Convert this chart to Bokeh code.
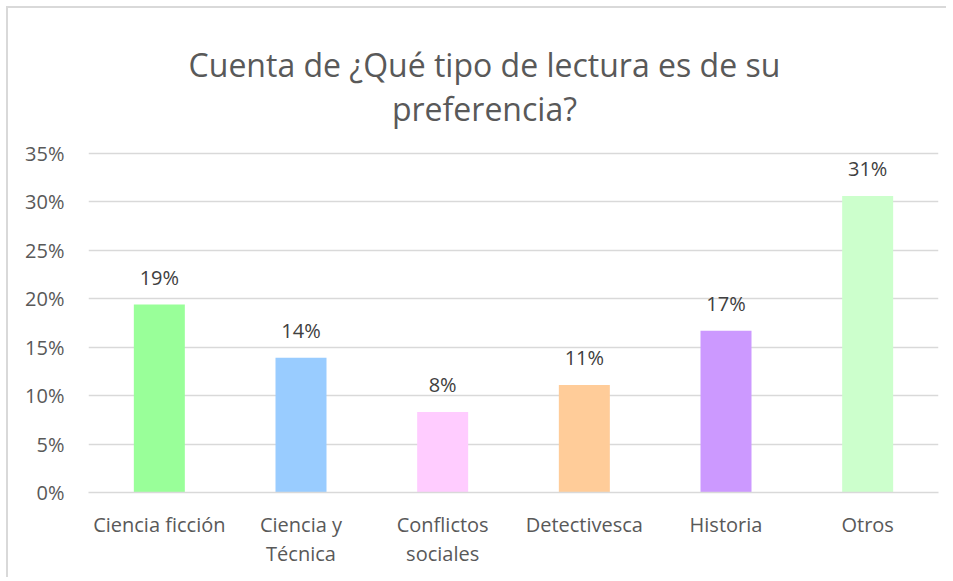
from bokeh.plotting import figure
from bokeh.models import (ColumnDataSource, Range1d, FixedTicker, NumeralTickFormatter,
                          Label, LabelSet)
from bokeh.core.properties import value
from bokeh.embed import file_html
from bokeh.resources import INLINE

categories = ["Ciencia ficción", "Ciencia y\nTécnica", "Conflictos\nsociales",
              "Detectivesca", "Historia", "Otros"]
values = [0.194, 0.139, 0.083, 0.111, 0.167, 0.306]
labels = ["19%", "14%", "8%", "11%", "17%", "31%"]
colors = ["#99FF99", "#99CCFF", "#FFCCFF", "#FFCC99", "#CC99FF", "#CCFFCC"]
y_ticks = [0, 0.05, 0.10, 0.15, 0.20, 0.25, 0.30, 0.35]
title_lines = ["Cuenta de ¿Qué tipo de lectura es de su", "preferencia?"]

FONT = "Open Sans"
TXT = "#595959"

# layout (pixels)
H, TOP, BOTTOM = 571, 10, 87
AXIS_PX = 339            # pixel height of the 0..35% axis span
FRAME_PX = H - TOP - BOTTOM
y_max = 0.35 * FRAME_PX / AXIS_PX
px = 0.35 / AXIS_PX      # data units per pixel

src = ColumnDataSource(dict(cat=categories, val=values, lab=labels, col=colors))

p = figure(x_range=categories, y_range=Range1d(0, y_max), width=940, height=H,
           output_backend="svg", toolbar_location=None,
           min_border_left=80, min_border_right=10, min_border_top=TOP,
           min_border_bottom=BOTTOM)
p.outline_line_color = None
p.background_fill_color = "white"
p.border_fill_color = "white"

p.vbar(x="cat", top="val", width=0.36, fill_color="col", line_color=None, source=src)

lbl = LabelSet(x="cat", y="val", text="lab", source=src, text_align="center",
               text_baseline="bottom", y_offset=14, text_font=value(FONT),
               text_font_size="20px", text_color="#404040")
p.add_layout(lbl)

p.yaxis.ticker = FixedTicker(ticks=y_ticks)
p.yaxis.formatter = NumeralTickFormatter(format="0%")
p.yaxis.axis_line_color = None
p.yaxis.major_tick_line_color = None
p.yaxis.minor_tick_line_color = None
p.yaxis.major_label_standoff = 18
p.yaxis.major_label_text_font = FONT
p.yaxis.major_label_text_font_size = "20px"
p.yaxis.major_label_text_color = TXT

p.xaxis.axis_line_color = "#d9d9d9"
p.xaxis.axis_line_width = 1.5
p.xaxis.major_tick_line_color = None
p.xaxis.minor_tick_line_color = None
p.xaxis.major_label_standoff = 12
p.xaxis.major_label_text_font = FONT
p.xaxis.major_label_text_font_size = "20px"
p.xaxis.major_label_text_color = TXT
p.xaxis.major_label_text_line_height = 1.1

p.xgrid.grid_line_color = None
p.ygrid.grid_line_color = "#d9d9d9"
p.ygrid.grid_line_width = 1.5

# two-line chart title, centred over the whole chart area (slightly left of plot centre)
title_x = 2.795           # in category units (frame is 6 units wide)
p.add_layout(Label(x=title_x, y=428 * px, text=title_lines[0], text_align="center",
                   text_baseline="alphabetic", text_font=FONT, text_font_size="32px",
                   text_color=TXT))
p.add_layout(Label(x=title_x, y=384 * px, text=title_lines[1], text_align="center",
                   text_baseline="alphabetic", text_font=FONT, text_font_size="32px",
                   text_color=TXT))

p.styles = {"border-left": "2px solid #d9d9d9", "border-top": "2px solid #d9d9d9",
            "margin-left": "6px", "margin-top": "6px"}

open("out.html", "w").write(file_html(p, INLINE))
